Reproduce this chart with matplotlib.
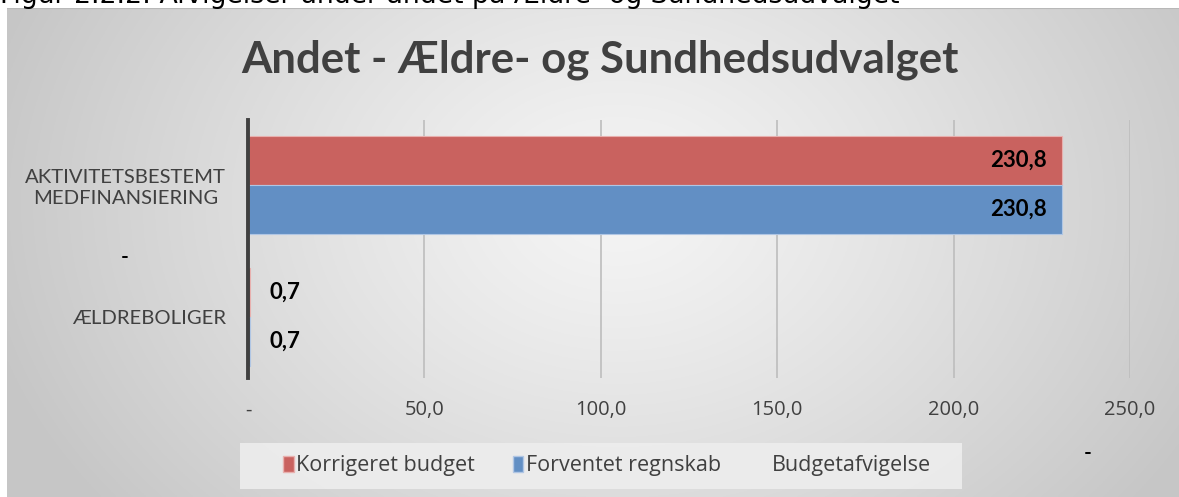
import numpy as np
import matplotlib
matplotlib.use("Agg")
import matplotlib.pyplot as plt
from matplotlib.patches import Patch, Rectangle

# ---- data ----
categories = ["ÆLDREBOLIGER", "AKTIVITETSBESTEMT\nMEDFINANSIERING"]
korrigeret_budget = [0.7, 230.8]
forventet_regnskab = [0.7, 230.8]
budgetafvigelse = [0.0, 0.0]
series_names = ["Korrigeret budget", "Forventet regnskab", "Budgetafvigelse"]
x_ticks = [0, 50, 100, 150, 200, 250]
title = "Andet - Ældre- og Sundhedsudvalget"
caption = "Figur 2.2.2: Afvigelser under andet på Ældre- og Sundhedsudvalget"

RED = "#c9625f"
BLUE = "#628fc4"
GRAY_TXT = "#404040"
FONT = ["Lato", "DejaVu Sans"]
FONT2 = ["Open Sans", "DejaVu Sans"]

W, H = 1179, 497
fig = plt.figure(figsize=(W / 100, H / 100), dpi=100)
fig.patch.set_facecolor("white")

# background gradient (chart area)
bg = fig.add_axes([7 / W, 0, 1 - 7 / W, 1 - 8 / H])
bg.set_axis_off()
yy, xx = np.mgrid[0:300, 0:600]
cx, cy = 0.52 * 600, 0.40 * 300
r = np.sqrt(((xx - cx) / 600) ** 2 + ((yy - cy) / 300 * 0.55) ** 2)
r = np.clip(r / 0.55, 0, 1)
v = 0.96 - 0.18 * r ** 1.2
img = np.dstack([v, v, v])
bg.imshow(img, aspect="auto", extent=[0, 1, 0, 1], origin="upper")
bg.set_xlim(0, 1)
bg.set_ylim(0, 1)
bg.plot([0, 1], [1, 1], color="#b8b8b8", lw=1.5, transform=bg.transAxes)

# caption cut off at top
fig.text(0.0, 1 - 3 / H, caption, ha="left", va="baseline", fontsize=19.3,
         family=["DejaVu Sans"], color="black")

ax = fig.add_axes([248 / W, 1 - 378 / H, (1130 - 248) / W, (378 - 120) / H])
ax.patch.set_alpha(0)
y = np.arange(len(categories))
h = 0.37
ax.barh(y + h / 2, korrigeret_budget, height=h, color=RED, edgecolor="#e8b0ae",
        linewidth=0.8, zorder=3, label=series_names[0])
ax.barh(y - h / 2, forventet_regnskab, height=h, color=BLUE, edgecolor="#b0c6e4",
        linewidth=0.8, zorder=3, label=series_names[1])

ax.set_xlim(0, 250)
ax.set_ylim(-0.46, 1.49)
ax.set_xticks(x_ticks)
ax.set_xticklabels(["-" if t == 0 else f"{t:.1f}".replace(".", ",") for t in x_ticks],
                   fontsize=14.5, color="#404040", family=FONT2)
ax.tick_params(axis="x", length=0, pad=16)
ax.set_yticks(y)
ax.set_yticklabels(categories, fontsize=14.6, color="#404040", family=FONT,
                   ha="right", multialignment="center", linespacing=1.25)
ax.tick_params(axis="y", length=0, pad=(248 - 226) * 0.72)
ax.grid(axis="x", color="#bdbdbd", lw=1.2, zorder=0)
for s in ["top", "right", "bottom"]:
    ax.spines[s].set_visible(False)
ax.spines["left"].set_color("#404040")
ax.spines["left"].set_linewidth(2.8)
ax.spines["left"].set_zorder(5)

# data labels
for i in range(len(categories)):
    for val, off in ((korrigeret_budget[i], h / 2), (forventet_regnskab[i], -h / 2)):
        lab = f"{val:.1f}".replace(".", ",")
        if val > 50:
            ax.text(val - 4.5, i + off, lab, ha="right", va="center", fontsize=16,
                    fontweight="bold", color="black", family=FONT, zorder=6)
        else:
            ax.text(val + 5.5, i + off, lab, ha="left", va="center", fontsize=16,
                    fontweight="bold", color="black", family=FONT, zorder=6)

# budgetafvigelse labels shown as "-"
fig.text(125 / W, 1 - 257 / H, "-", ha="center", va="center", fontsize=15,
         fontweight="bold", color="black", family=FONT)
fig.text(1088 / W, 1 - 453 / H, "-", ha="center", va="center", fontsize=15,
         fontweight="bold", color="black", family=FONT)

# title
fig.text(600 / W, 1 - 60 / H, title, ha="center", va="center", fontsize=31.5,
         fontweight="bold", color=GRAY_TXT, family=FONT)

# legend box
fig.patches.append(Rectangle((240 / W, 1 - 489 / H), (962 - 240) / W, 46 / H,
                             transform=fig.transFigure, facecolor="#ededed",
                             edgecolor="none", alpha=0.92, zorder=1))
handles = [Patch(facecolor=RED, edgecolor="#e8b0ae"),
           Patch(facecolor=BLUE, edgecolor="#b0c6e4"),
           Patch(facecolor="none", edgecolor="none")]
leg = fig.legend(handles, series_names, loc="center", ncol=3,
                 bbox_to_anchor=(607 / W, 1 - 466 / H), frameon=False,
                 prop={"family": FONT2, "size": 15.5}, handlelength=0.5,
                 handleheight=0.7, handletextpad=0.12, columnspacing=1.75,
                 borderpad=0.0)
for t in leg.get_texts():
    t.set_color("#404040")

fig.savefig("out.png", dpi=100)
